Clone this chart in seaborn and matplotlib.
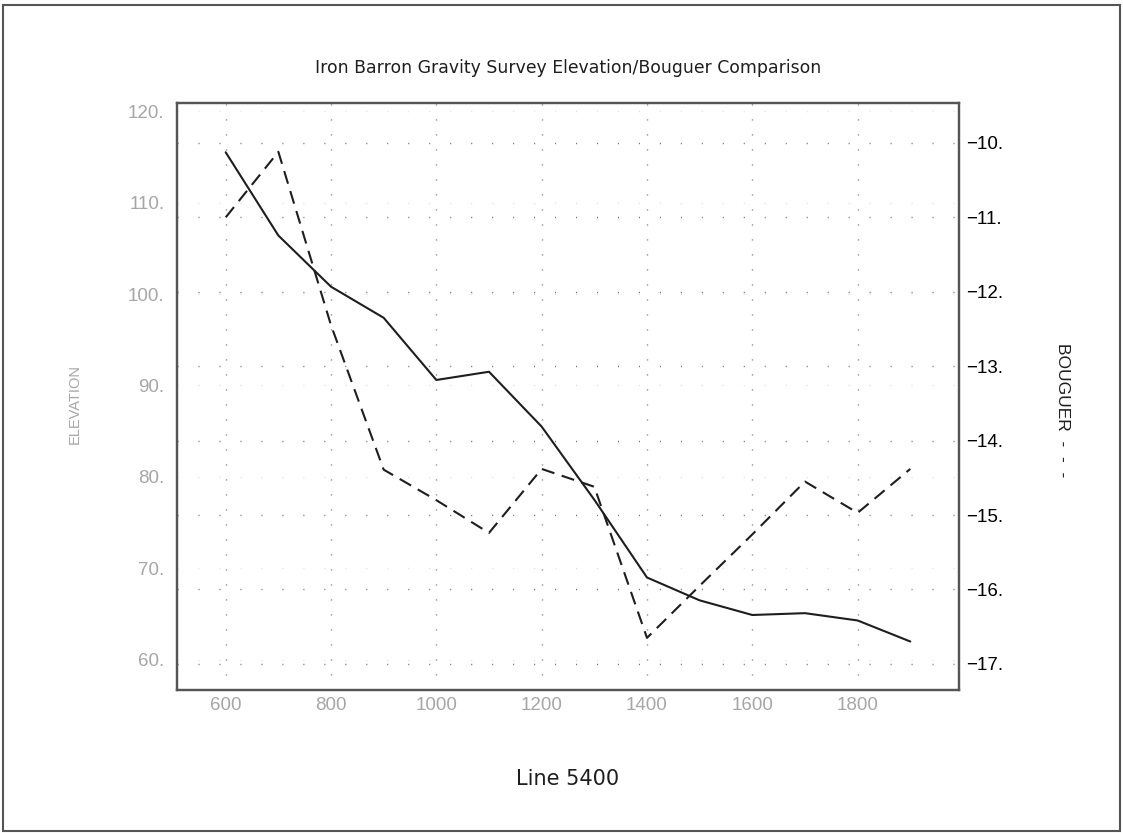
import numpy as np
import pandas as pd
import matplotlib
matplotlib.use("Agg")
import matplotlib.pyplot as plt
import seaborn as sns

# station positions along Line 5400
station = [600, 700, 800, 900, 1000, 1100, 1200, 1300, 1400, 1500, 1600, 1700, 1800, 1900]
elevation = [115.5, 106.4, 100.8, 97.4, 90.6, 91.5, 85.5, 77.5, 69.0, 66.5, 64.9, 65.1, 64.3, 62.0]
bouguer = [-11.0, -10.12, -12.45, -14.39, -14.8, -15.24, -14.38, -14.62, -16.65, -15.95, -15.26, -14.55, -14.97, -14.38]

elev_ticks = [60, 70, 80, 90, 100, 110, 120]
boug_ticks = [-17, -16, -15, -14, -13, -12, -11, -10]
x_ticks = [600, 800, 1000, 1200, 1400, 1600, 1800]

sns.set_style("white")
plt.rcParams['font.family'] = ['Liberation Sans', 'DejaVu Sans']
plt.rcParams['lines.scale_dashes'] = False

GREY = '#a6a6a6'
INK = '#1e1e1e'

fig = plt.figure(figsize=(11.23, 8.33), dpi=100)
ax = fig.add_axes([0.1576, 0.1717, 0.6966, 0.7041])
ax2 = ax.twinx()

sns.lineplot(x=station, y=elevation, ax=ax, color=INK, linewidth=1.5)
sns.lineplot(x=station, y=bouguer, ax=ax2, color=INK, linewidth=1.5)
ax2.lines[-1].set_dashes([9.5, 5.5])

ax.set_xlim(507.5, 1993)
ax.set_ylim(56.7, 120.84)
ax2.set_ylim(-17.35, -9.47)

ax.set_xticks(x_ticks)
ax.set_xticklabels([str(v) for v in x_ticks])
ax.set_yticks(elev_ticks)
ax.set_yticklabels([f"{v}." for v in elev_ticks])
ax2.set_yticks(boug_ticks)
ax2.set_yticklabels([f"\u2212{abs(v)}." for v in boug_ticks])

ax.tick_params(axis='both', length=0, labelsize=13.5, labelcolor=GREY)
ax.tick_params(axis='y', pad=9)
ax.tick_params(axis='x', pad=5)
ax2.tick_params(axis='y', length=0, labelsize=13.5, labelcolor='black', pad=5)

# dotted grid
ax.grid(True, axis='x', linestyle=(0, (0.8, 10.0)), color='#777777', linewidth=1.0)
ax.grid(True, axis='y', linestyle=(0, (0.8, 14.3)), color='#e2e2e2', linewidth=1.0)
ax2.grid(True, axis='y', linestyle=(0, (0.8, 14.3)), color='#777777', linewidth=1.0)
ax2.grid(False, axis='x')

for a in (ax, ax2):
    for s in a.spines.values():
        s.set_color('#555555')
        s.set_linewidth(1.6)

ax.set_xlabel('')
ax.set_ylabel('')
ax2.set_ylabel('')

fig.text(0.5058, 0.918, 'Iron Barron Gravity Survey Elevation/Bouguer Comparison',
         ha='center', va='center', fontsize=12.4, color=INK, family='DejaVu Sans')
fig.text(0.5058, 0.0648, 'Line 5400', ha='center', va='center', fontsize=15,
         color=INK, family='DejaVu Sans')
fig.text(0.0668, 0.515, 'ELEVATION', ha='center', va='center', rotation=90,
         fontsize=10.5, color=GREY)
fig.text(0.9457, 0.508, 'BOUGUER  -  -  -', ha='center', va='center', rotation=-90,
         fontsize=12.5, color=INK)

# outer frame of the page
fig.add_artist(plt.Rectangle((0.003, 0.003), 0.994, 0.991, transform=fig.transFigure,
                             fill=False, edgecolor='#555555', linewidth=1.5))

fig.savefig("out.png", dpi=100)
